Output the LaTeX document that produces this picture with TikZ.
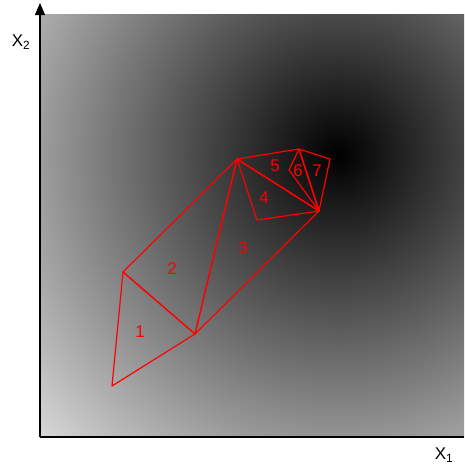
\documentclass[tikz,border=0pt]{standalone}
\usepackage{fontspec}
\setmainfont{Liberation Sans}
\usepackage{xcolor}
\definecolor{rouge}{HTML}{FF0000}
\usepackage{tikz}
\usetikzlibrary{arrows.meta}

\begin{document}
\begin{tikzpicture}[
  x=1pt,y=-1pt,
  tri/.style={draw=rouge,line width=1.2pt,line join=round},
  num/.style={text=rouge,font=\fontsize{17}{17}\selectfont,inner sep=0pt},
  ax/.style={black,line width=1.3pt},
  lab/.style={font=\fontsize{17}{17}\selectfont,inner sep=0pt}
]
\useasboundingbox (0,0) rectangle (464,469);
% fond
\begin{scope}
  \clip (41,14) rectangle (464,437);
  \shade[inner color=black,outer color=white] (338,155) circle (485);
\end{scope}
% axes
\coordinate (o) at (40,437);
\coordinate (ytop) at (40,3);
\coordinate (xend) at (464,437);
\draw[ax,-{Triangle[length=12pt,width=10pt]}] (o) -- (ytop);
\draw[ax] (o) -- (xend);
\node[lab] (xlab2) at (21,42) {X\textsubscript{2}};
\node[lab] (xlab1) at (444,455) {X\textsubscript{1}};
% sommets
\coordinate (a) at (112,386);
\coordinate (b) at (123,272);
\coordinate (c) at (195,334);
\coordinate (d) at (237,159);
\coordinate (e) at (319,211);
\coordinate (f) at (257,220);
\coordinate (g) at (299,149);
\coordinate (h) at (289,170);
\coordinate (i) at (330,159);
% triangles
\draw[tri] (a) -- (b) -- (c) -- cycle;
\draw[tri] (b) -- (c) -- (d) -- cycle;
\draw[tri] (c) -- (d) -- (e) -- cycle;
\draw[tri] (d) -- (e) -- (f) -- cycle;
\draw[tri] (d) -- (g) -- (e) -- cycle;
\draw[tri] (g) -- (h) -- (e) -- cycle;
\draw[tri] (g) -- (i) -- (e) -- cycle;
% numeros
\node[num] (n1) at (140,332) {1};
\node[num] (n2) at (172,269) {2};
\node[num] (n3) at (243,248) {3};
\node[num] (n4) at (264,198) {4};
\node[num] (n5) at (275,166) {5};
\node[num] (n6) at (298,171) {6};
\node[num] (n7) at (317,171) {7};
\end{tikzpicture}
\end{document}
